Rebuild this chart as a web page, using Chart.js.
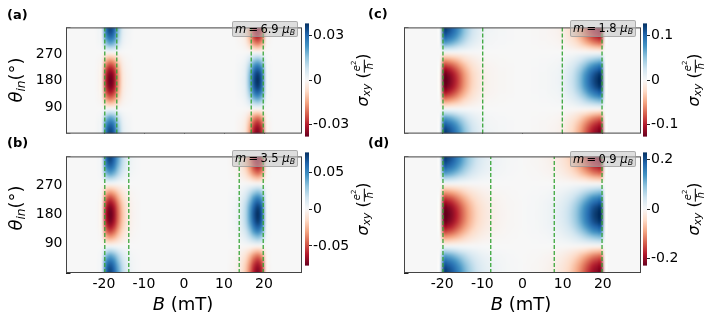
<!DOCTYPE html>
<html>
<head>
<meta charset="utf-8">
<script src="https://cdn.jsdelivr.net/npm/chart.js@4.4.0/dist/chart.umd.min.js"></script>
<style>
  body { margin: 0; background: #fff; }
  #wrap { position: relative; width: 707px; height: 321px; overflow: hidden; font-family: "DejaVu Sans", sans-serif; color: #000; }
  canvas { position: absolute; }
  .lbl { position: absolute; white-space: nowrap; line-height: 1; }
  .ctr { transform: translate(-50%, -50%); }
  .rot { transform: translate(-50%, -50%) rotate(-90deg); }
  .tag { font-weight: bold; font-size: 13px; transform: translate(0, -50%); }
  .big { font-size: 18px; }
  .sig { font-size: 16px; }
  .lbl sub { font-size: 68%; vertical-align: -0.25em; }
  .frac { display: inline-block; vertical-align: middle; text-align: center; font-size: 10px; line-height: 1.05; }
  .frac > span { display: block; }
  .frac .num { border-bottom: 1px solid #000; padding: 0 1px 1px; }
  .frac sup { font-size: 70%; }
  .mbox { position: absolute; box-sizing: border-box; background: rgba(195, 195, 195, 0.55); border: 1px solid rgba(140, 140, 140, 0.6); border-radius: 2px; font-size: 11.5px; display: flex; align-items: center; justify-content: center; white-space: nowrap; }
  .mbox sub { font-size: 68%; vertical-align: -0.25em; }
</style>
</head>
<body>
<div id="wrap"></div>
<script>
const family = '"DejaVu Sans", sans-serif';
Chart.defaults.font.family = family;

// axis ticks
const xTicks = [-20, -10, 0, 10, 20];
const yTicks = [0, 90, 180, 270, 360];
const yTickLabels = ['', '90', '180', '270', ''];

// heatmap cells: B cells are 1 mT wide over -30..30, theta cells 15 deg over 0..360
const bRange = [-30, 30];
const thetaRange = [0, 360];

// relative angular shape read along theta (cell centres 7.5, 22.5, ... 352.5)
const thetaProfile = [0.93, 0.86, 0.73, 0.55, 0.3, 0.04, -0.22, -0.45, -0.66, -0.83, -0.95, -1.0,
  -1.0, -0.95, -0.83, -0.66, -0.45, -0.22, 0.04, 0.3, 0.55, 0.73, 0.86, 0.93];

// sigma_xy (e^2/h) along B (cell centres -29.5 ... 29.5)
const sigmaA = [0, 0, 0, 0, 0, 0, 0, 0,
  0.001, 0.004, 0.029, 0.038, 0.033, 0.018, 0.006, 0.002, 0.001,
  0, 0, 0, 0, 0, 0, 0, 0, 0, 0, 0, 0, 0, 0, 0, 0, 0, 0, 0, 0, 0, 0, 0, 0, 0, 0,
  -0.001, -0.002, -0.006, -0.018, -0.033, -0.038, -0.029, -0.004, -0.001,
  0, 0, 0, 0, 0, 0, 0, 0];
const sigmaB = [0, 0, 0, 0, 0, 0, 0, 0,
  0.001, 0.008, 0.061, 0.0765, 0.066, 0.044, 0.024, 0.012, 0.005, 0.002, 0.001,
  0, 0, 0, 0, 0, 0, 0, 0, 0, 0, 0, 0, 0, 0, 0, 0, 0, 0, 0, 0, 0, 0,
  -0.001, -0.002, -0.005, -0.012, -0.024, -0.044, -0.066, -0.0765, -0.061, -0.008, -0.001,
  0, 0, 0, 0, 0, 0, 0, 0];
const sigmaC = [0, 0, 0, 0, 0, 0, 0, 0, 0,
  0.006, 0.128, 0.124, 0.112, 0.096, 0.077, 0.058, 0.042, 0.029, 0.02, 0.013,
  0.008, 0.005, 0.004, 0.003, 0.002, 0.002, 0.001, 0.001, 0, 0,
  0, 0, -0.001, -0.001, -0.002, -0.002, -0.003, -0.004, -0.005, -0.008,
  -0.013, -0.02, -0.029, -0.042, -0.058, -0.077, -0.096, -0.112, -0.124, -0.128, -0.006,
  0, 0, 0, 0, 0, 0, 0, 0, 0];
const sigmaD = [0, 0, 0, 0, 0, 0, 0, 0, 0,
  0.01, 0.229, 0.224, 0.207, 0.18, 0.15, 0.12, 0.093, 0.07, 0.052, 0.038,
  0.028, 0.021, 0.015, 0.011, 0.008, 0.006, 0.004, 0.003, 0.002, 0.001,
  -0.001, -0.002, -0.003, -0.004, -0.006, -0.008, -0.011, -0.015, -0.021, -0.028,
  -0.038, -0.052, -0.07, -0.093, -0.12, -0.15, -0.18, -0.207, -0.224, -0.229, -0.01,
  0, 0, 0, 0, 0, 0, 0, 0, 0];

// green dashed guide lines (mT)
const dashA = [-19.8, -16.8, 16.8, 19.8];
const dashB = [-19.8, -13.8, 13.8, 19.8];
const dashC = [-19.8, -9.9, 9.9, 19.8];
const dashD = [-19.8, -7.9, 7.9, 19.8];

// colour limits and colorbar ticks
const vmaxA = 0.038, vmaxB = 0.0765, vmaxC = 0.128, vmaxD = 0.229;
const cbTicksA = [-0.03, 0, 0.03], cbLabelsA = ['-0.03', '0', '0.03'];
const cbTicksB = [-0.05, 0, 0.05], cbLabelsB = ['-0.05', '0', '0.05'];
const cbTicksC = [-0.1, 0, 0.1], cbLabelsC = ['-0.1', '0', '0.1'];
const cbTicksD = [-0.2, 0, 0.2], cbLabelsD = ['-0.2', '0', '0.2'];

const moments = ['6.9', '3.5', '1.8', '0.9'];
const tags = ['(a)', '(b)', '(c)', '(d)'];

const dashColor = '#2ca02c';
const rdbuHex = ['#67001f', '#b2182b', '#d6604d', '#f4a582', '#fddbc7', '#f7f7f7',
  '#d1e5f0', '#92c5de', '#4393c3', '#2166ac', '#053061'];
const rdbuRgb = rdbuHex.map(h => [1, 3, 5].map(i => parseInt(h.substr(i, 2), 16)));

function rdbu(v) {
  const t = (Math.max(-1, Math.min(1, v)) + 1) / 2 * (rdbuRgb.length - 1);
  const i = Math.min(rdbuRgb.length - 2, Math.floor(t));
  const f = t - i;
  return rdbuRgb[i].map((c, k) => Math.round(c + (rdbuRgb[i + 1][k] - c) * f));
}

const wrap = document.getElementById('wrap');

function addCanvas(left, top, w, h) {
  const c = document.createElement('canvas');
  c.width = w; c.height = h;
  c.style.left = left + 'px'; c.style.top = top + 'px';
  wrap.appendChild(c);
  return c;
}

function heatmapLayer(profile, vmax) {
  return {
    id: 'heatmap',
    beforeDatasetsDraw(chart) {
      const { ctx, chartArea: area, scales: { x, y } } = chart;
      const nB = profile.length, nT = thetaProfile.length;
      const off = document.createElement('canvas');
      off.width = nB; off.height = nT;
      const octx = off.getContext('2d');
      const img = octx.createImageData(nB, nT);
      for (let r = 0; r < nT; r++) {
        const g = thetaProfile[nT - 1 - r];
        for (let c = 0; c < nB; c++) {
          const rgb = rdbu(profile[c] * g / vmax);
          const i = (r * nB + c) * 4;
          img.data[i] = rgb[0]; img.data[i + 1] = rgb[1]; img.data[i + 2] = rgb[2]; img.data[i + 3] = 255;
        }
      }
      octx.putImageData(img, 0, 0);
      const x0 = x.getPixelForValue(bRange[0]), x1 = x.getPixelForValue(bRange[1]);
      const y0 = y.getPixelForValue(thetaRange[1]), y1 = y.getPixelForValue(thetaRange[0]);
      ctx.save();
      ctx.beginPath();
      ctx.rect(area.left, area.top, area.width, area.height);
      ctx.clip();
      ctx.imageSmoothingEnabled = true;
      ctx.imageSmoothingQuality = 'high';
      ctx.drawImage(off, x0, y0, x1 - x0, y1 - y0);
      ctx.restore();
    }
  };
}

const frameLayer = {
  id: 'frame',
  afterDraw(chart) {
    const { ctx, chartArea: a } = chart;
    ctx.save();
    ctx.strokeStyle = '#444';
    ctx.lineWidth = 1;
    ctx.strokeRect(a.left + 0.5, a.top + 0.5, a.width - 1, a.height - 1);
    ctx.restore();
  }
};

// one heatmap panel
function panel(p) {
  const AX = 50, PAD = 4;
  const cv = addCanvas(p.left - AX, p.top - PAD, AX + p.w + PAD, PAD + p.h + p.xh);
  new Chart(cv, {
    type: 'scatter',
    data: {
      datasets: p.lines.map(b => ({
        type: 'line',
        data: [{ x: b, y: thetaRange[0] }, { x: b, y: thetaRange[1] }],
        borderColor: dashColor,
        borderWidth: 1.2,
        borderDash: [4, 2],
        pointRadius: 0,
        fill: false
      }))
    },
    options: {
      responsive: false,
      animation: false,
      events: [],
      layout: { padding: { left: 0, top: PAD, right: PAD, bottom: 0 } },
      plugins: { legend: { display: false }, tooltip: { enabled: false } },
      scales: {
        x: {
          type: 'linear', min: -29.5, max: 29.5, z: 1,
          afterFit: s => { s.height = p.xh; },
          afterBuildTicks: s => { s.ticks = xTicks.map(v => ({ value: v })); },
          grid: { drawOnChartArea: false, tickLength: -4.5, color: '#222' },
          border: { display: false },
          ticks: {
            autoSkip: false, maxRotation: 0, padding: 7, color: '#000',
            font: { family, size: 14 },
            callback: v => (p.showX ? String(v) : '')
          }
        },
        y: {
          type: 'linear', min: thetaRange[0], max: thetaRange[1], z: 1,
          afterFit: s => { s.width = AX; },
          afterBuildTicks: s => { s.ticks = yTicks.map(v => ({ value: v })); },
          grid: { drawOnChartArea: false, tickLength: -4.5, color: '#222' },
          border: { display: false },
          ticks: {
            autoSkip: false, padding: 8, color: '#000',
            font: { family, size: 14 },
            callback: v => (p.showY ? yTickLabels[yTicks.indexOf(v)] : '')
          }
        }
      }
    },
    plugins: [heatmapLayer(p.sigma, p.vmax), frameLayer]
  });

  // colorbar
  const CW = 4, CAX = 40, CP = 8;
  const cb = addCanvas(p.cbLeft, p.cbTop - CP, CW + CAX, p.cbH + 2 * CP);
  new Chart(cb, {
    type: 'scatter',
    data: { datasets: [] },
    options: {
      responsive: false,
      animation: false,
      events: [],
      layout: { padding: { left: 0, top: CP, right: 0, bottom: CP } },
      plugins: { legend: { display: false }, tooltip: { enabled: false } },
      scales: {
        x: { display: false, min: 0, max: 1 },
        y: {
          position: 'right', min: -p.vmax, max: p.vmax,
          afterFit: s => { s.width = CAX; },
          afterBuildTicks: s => { s.ticks = p.cbTicks.map(v => ({ value: v })); },
          grid: { drawOnChartArea: false, tickLength: 3, color: '#222' },
          border: { display: false },
          ticks: {
            autoSkip: false, padding: 1, color: '#000',
            font: { family, size: 14 },
            callback: v => p.cbLabels[p.cbTicks.indexOf(v)]
          }
        }
      }
    },
    plugins: [{
      id: 'cbfill',
      beforeDatasetsDraw(chart) {
        const { ctx, chartArea: a, scales: { y } } = chart;
        const g = ctx.createLinearGradient(0, y.getPixelForValue(-p.vmax), 0, y.getPixelForValue(p.vmax));
        rdbuHex.forEach((c, i) => g.addColorStop(i / (rdbuHex.length - 1), c));
        ctx.save();
        ctx.fillStyle = g;
        ctx.fillRect(a.left, a.top, a.width, a.height);
        ctx.restore();
      }
    }]
  });
}

panel({ left: 66, top: 15, w: 236, h: 129, xh: 6, showX: false, showY: true, sigma: sigmaA, vmax: vmaxA, lines: dashA,
  cbLeft: 305, cbTop: 22, cbH: 116, cbTicks: cbTicksA, cbLabels: cbLabelsA });
panel({ left: 66, top: 144, w: 236, h: 129, xh: 26, showX: true, showY: true, sigma: sigmaB, vmax: vmaxB, lines: dashB,
  cbLeft: 305, cbTop: 151, cbH: 116, cbTicks: cbTicksB, cbLabels: cbLabelsB });
panel({ left: 404, top: 15, w: 237, h: 129, xh: 6, showX: false, showY: false, sigma: sigmaC, vmax: vmaxC, lines: dashC,
  cbLeft: 643, cbTop: 22, cbH: 116, cbTicks: cbTicksC, cbLabels: cbLabelsC });
panel({ left: 404, top: 144, w: 237, h: 129, xh: 26, showX: true, showY: false, sigma: sigmaD, vmax: vmaxD, lines: dashD,
  cbLeft: 643, cbTop: 151, cbH: 116, cbTicks: cbTicksD, cbLabels: cbLabelsD });

// text labels
function label(html, x, y, cls) {
  const d = document.createElement('div');
  d.className = 'lbl ' + cls;
  d.style.left = x + 'px'; d.style.top = y + 'px';
  d.innerHTML = html;
  wrap.appendChild(d);
}
const thetaHtml = '<i>θ</i><sub><i>in</i></sub>(°)';
const sigmaHtml = '<i>σ</i><sub><i>xy</i></sub> (<span class="frac"><span class="num"><i>e</i><sup>2</sup></span><span><i>ħ</i></span></span>)';
const bHtml = '<i>B</i> (mT)';

label(tags[0], 7, 14, 'tag');
label(tags[1], 7, 142, 'tag');
label(tags[2], 368, 13, 'tag');
label(tags[3], 368, 142, 'tag');
label(thetaHtml, 17, 80, 'rot big');
label(thetaHtml, 17, 208, 'rot big');
label(sigmaHtml, 363, 80, 'rot sig');
label(sigmaHtml, 363, 209, 'rot sig');
label(sigmaHtml, 694, 80, 'rot sig');
label(sigmaHtml, 694, 209, 'rot sig');
label(bHtml, 183, 304, 'ctr big');
label(bHtml, 521, 304, 'ctr big');

const boxes = [[232, 21, 66, 16], [232, 150, 66, 17], [570, 20, 66, 17], [570, 151, 66, 16]];
boxes.forEach((b, i) => {
  const d = document.createElement('div');
  d.className = 'mbox';
  d.style.left = b[0] + 'px'; d.style.top = b[1] + 'px';
  d.style.width = b[2] + 'px'; d.style.height = b[3] + 'px';
  d.innerHTML = '<span><i>m</i>&thinsp;=&thinsp;' + moments[i] + '&nbsp;<i>μ</i><sub><i>B</i></sub></span>';
  wrap.appendChild(d);
});
</script>
</body>
</html>
